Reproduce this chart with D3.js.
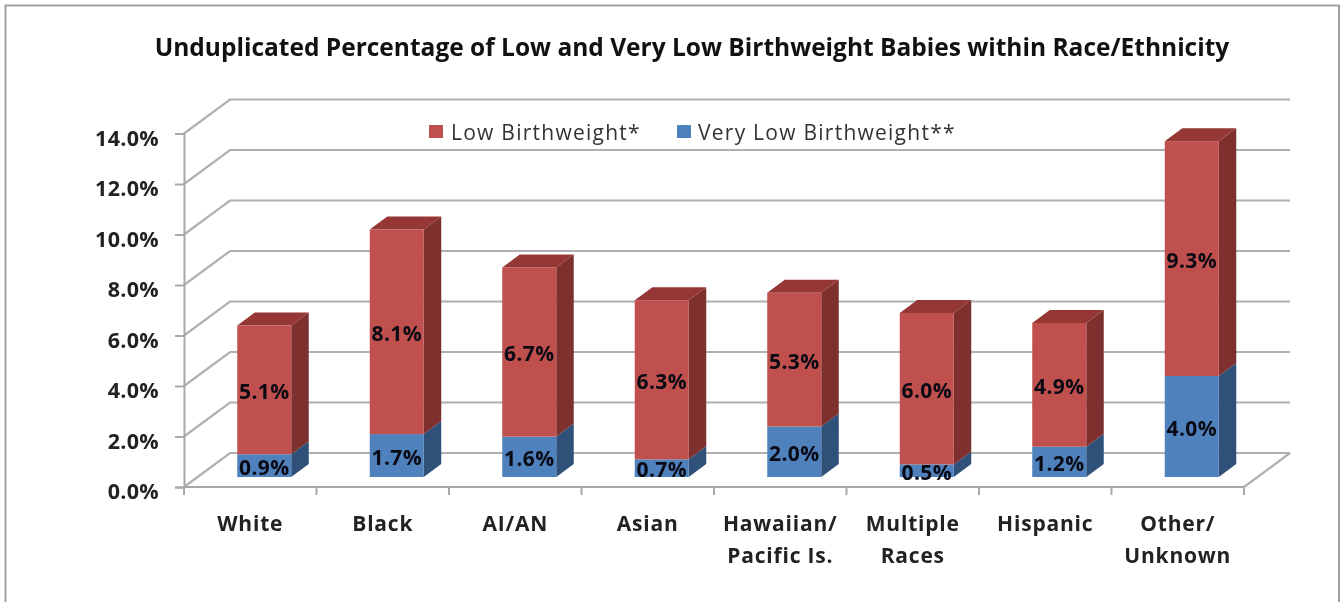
<!DOCTYPE html>
<html><head><meta charset="utf-8">
<script src="https://cdn.jsdelivr.net/npm/d3@7/dist/d3.min.js"></script>
<style>html,body{margin:0;padding:0;background:#fff}svg{display:block;filter:blur(0.55px)}</style>
</head><body><svg id="c" width="1340" height="602"></svg>
<script>
const titleText = "Unduplicated Percentage of Low and Very Low Birthweight Babies within Race/Ethnicity";
const categories = ["White","Black","AI/AN","Asian","Hawaiian/|Pacific Is.","Multiple|Races","Hispanic","Other/|Unknown"];
const lowBirthweight = [5.1,8.1,6.7,6.3,5.3,6.0,4.9,9.3];
const veryLowBirthweight = [0.9,1.7,1.6,0.7,2.0,0.5,1.2,4.0];
const yTicks = [0,2,4,6,8,10,12,14];
const seriesNames = ["Low Birthweight*","Very Low Birthweight**"];

const FONT = "'Open Sans','Noto Sans',sans-serif";
const svg = d3.select("#c");
const x = d3.scaleBand().domain(categories).range([184,1244]);
const y = d3.scaleLinear().domain([0,14]).range([487,133.5]);
const depth = {dx:46, dy:-34};
const barOff = {dx:14, dy:-10};
const barSide = {dx:17.5, dy:-13};
const barW = 54;
const GRID = "#b0b0b0";

// frame
svg.append("path").attr("d","M5.5,602V5.5H1339V602").attr("fill","none").attr("stroke","#a0a0a0").attr("stroke-width",2);

// title
svg.append("text").attr("x",692).attr("y",56).attr("text-anchor","middle")
  .attr("font-family",FONT).attr("font-weight",700).attr("font-size",24.5).attr("fill","#111")
  .text(titleText);

// gridlines (back wall and left wall)
const grid = svg.append("g").attr("fill","none").attr("stroke",GRID).attr("stroke-width",2.2);
yTicks.forEach(t=>{
  const yy=y(t);
  grid.append("path").attr("d",`M184,${yy}L${184+depth.dx},${yy+depth.dy}H${1244+depth.dx}`);
});
grid.append("path").attr("d",`M1244,487L${1244+depth.dx},${487+depth.dy}`);

// axes
const yAxis = d3.axisLeft(y).tickValues(yTicks).tickSize(9).tickPadding(16).tickFormat(d=>d.toFixed(1)+"%");
const gy = svg.append("g").attr("transform","translate(184,0)").call(yAxis);
gy.selectAll("text").attr("font-family",FONT).attr("font-weight",700).attr("font-size",21.5).attr("letter-spacing",0.3).attr("fill","#222").attr("dy","0.54em");
const xAxis = d3.axisBottom(x).tickValues([]).tickSizeOuter(9);
const gx = svg.append("g").attr("transform","translate(0,487)").call(xAxis);
gx.selectAll(".domain").remove();
svg.append("line").attr("x1",184).attr("x2",1244).attr("y1",487).attr("y2",487).attr("stroke","#a8a8a8").attr("stroke-width",2);
svg.selectAll(".xt").data(d3.range(categories.length+1)).join("line")
  .attr("x1",i=>184+i*x.step()).attr("x2",i=>184+i*x.step()).attr("y1",487).attr("y2",495)
  .attr("stroke","#a8a8a8").attr("stroke-width",2);
gy.selectAll("path,line").attr("stroke","#a8a8a8").attr("stroke-width",2);

// category labels
categories.forEach(c=>{
  const cx = x(c)+x.bandwidth()/2;
  c.split("|").forEach((ln,i)=>{
    svg.append("text").attr("x",cx).attr("y",530.5+i*32).attr("text-anchor","middle")
      .attr("font-family",FONT).attr("font-weight",700).attr("font-size",21).attr("letter-spacing",0.8).attr("fill","#222").text(ln);
  });
});

// stacked 3D bars
const unit = y(0)-y(1);
const baseY = y(0)+barOff.dy;
function seg(g,cat,v0,v1,cols,top){
  const xl = x(cat)+(x.bandwidth()-barW)/2+barOff.dx, xr=xl+barW;
  const y0 = baseY-v0*unit, y1 = baseY-v1*unit;
  g.append("path").attr("fill",cols.side)
    .attr("d",`M${xr},${y0}L${xr+barSide.dx},${y0+barSide.dy}V${y1+barSide.dy}L${xr},${y1}Z`);
  if(top) g.append("path").attr("fill",cols.top)
    .attr("d",`M${xl},${y1}L${xl+barSide.dx},${y1+barSide.dy}H${xr+barSide.dx}L${xr},${y1}Z`);
  g.append("rect").attr("x",xl).attr("y",y1).attr("width",barW).attr("height",y0-y1).attr("fill",cols.front);
}
const RED={front:"#c0504d",side:"#7d302e",top:"#953735"}, BLUE={front:"#4f81bd",side:"#2f5078",top:"#3c6494"};
const bars=svg.append("g");
categories.forEach((c,i)=>{
  const g=bars.append("g");
  seg(g,c,0,veryLowBirthweight[i],BLUE,false);
  seg(g,c,veryLowBirthweight[i],veryLowBirthweight[i]+lowBirthweight[i],RED,true);
});
// data labels
categories.forEach((c,i)=>{
  const cx=x(c)+x.bandwidth()/2+barOff.dx;
  const lo=veryLowBirthweight[i], hi=lowBirthweight[i];
  [[lo/2,lo],[lo+hi/2,hi]].forEach(([m,v])=>{
    svg.append("text").attr("x",cx).attr("y",baseY-m*unit+9).attr("text-anchor","middle")
      .attr("font-family",FONT).attr("font-weight",700).attr("font-size",21).attr("letter-spacing",0.4).attr("fill","#0a0a14")
      .text(v.toFixed(1)+"%");
  });
});

// legend
const legend=[{n:seriesNames[0],c:"#c0504d",sx:429,tx:451},{n:seriesNames[1],c:"#4f81bd",sx:677,tx:698}];
legend.forEach(l=>{
  svg.append("rect").attr("x",l.sx).attr("y",125).attr("width",14).attr("height",13).attr("fill",l.c);
  svg.append("text").attr("x",l.tx).attr("y",140).attr("font-family",FONT).attr("font-size",21).attr("letter-spacing",1.25).attr("fill","#333").text(l.n);
});
</script></body></html>
